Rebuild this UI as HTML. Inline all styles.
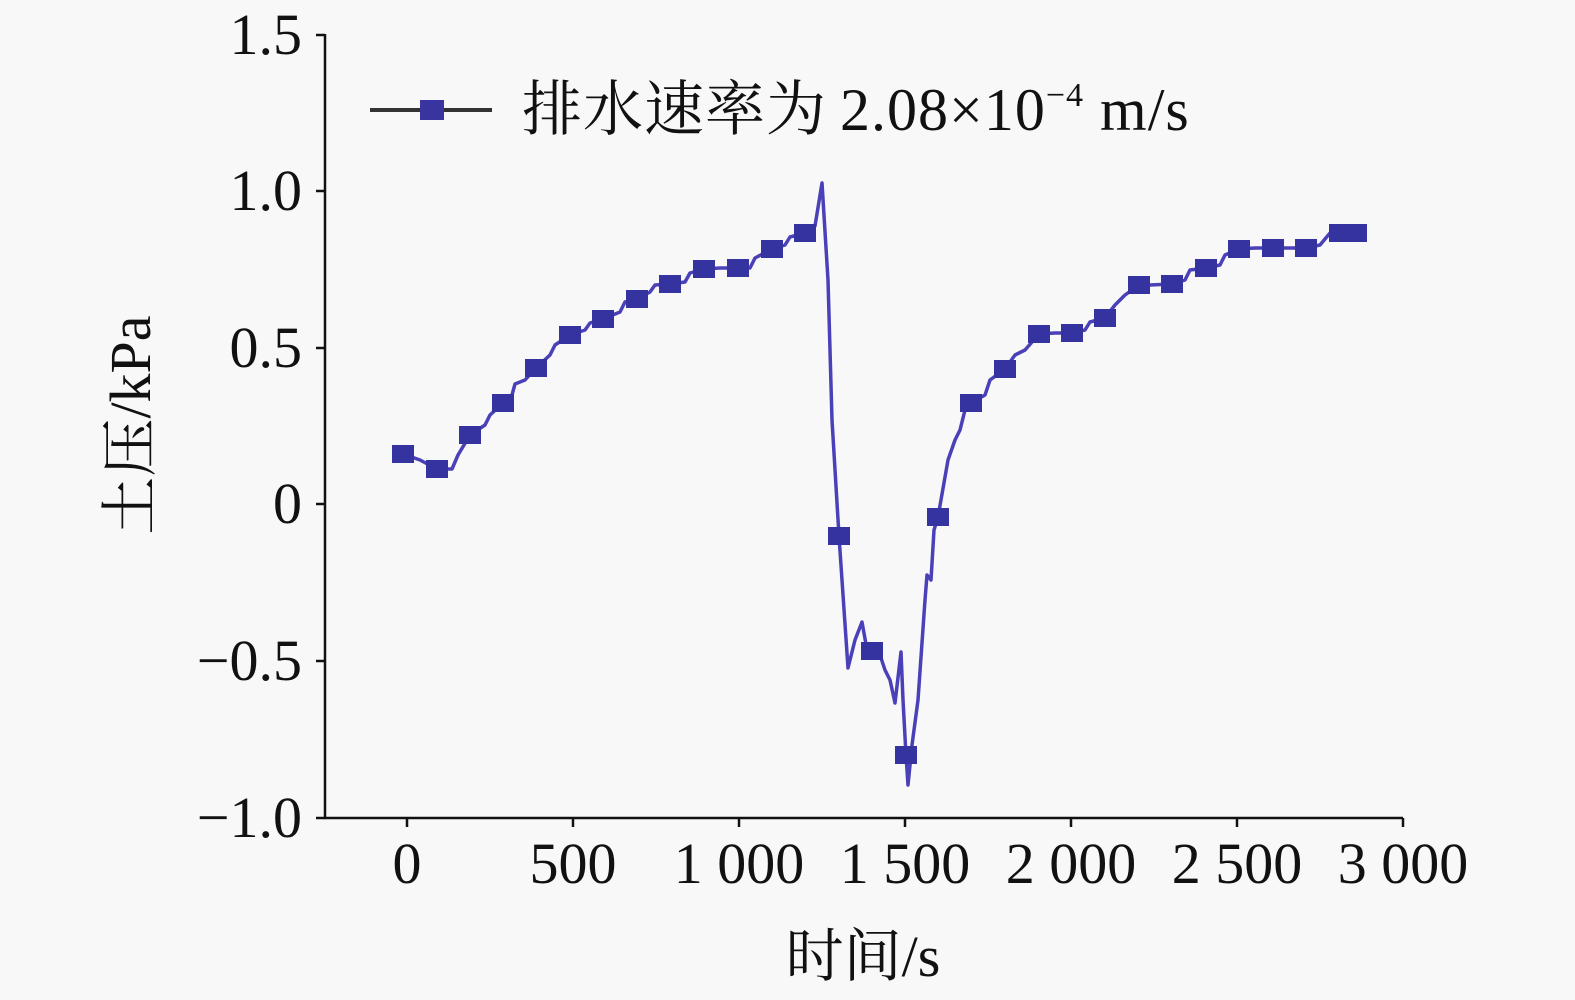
<!DOCTYPE html>
<html><head><meta charset="utf-8"><style>
html,body{margin:0;padding:0;background:#f8f8f8}
svg{display:block}
text{font-family:"Liberation Serif","Noto Serif CJK SC",serif;fill:#111}
</style></head><body>
<svg width="1575" height="1000" viewBox="0 0 1575 1000">
<rect width="1575" height="1000" fill="#f8f8f8"/>
<g stroke="#111" stroke-width="2.5" fill="none">
<path d="M325,34 V818 H1403"/>
<path d="M316,35 H325 M316,191 H325 M316,348 H325 M316,504 H325 M316,661 H325 M316,818 H325"/>
<path d="M407,818 V827 M573,818 V827 M739,818 V827 M905,818 V827 M1071,818 V827 M1237,818 V827 M1403,818 V827"/>
</g>
<g font-size="58" text-anchor="end">
<text x="302" y="54">1.5</text>
<text x="302" y="210">1.0</text>
<text x="302" y="367">0.5</text>
<text x="302" y="523">0</text>
<text x="302" y="680">−0.5</text>
<text x="302" y="837">−1.0</text>
</g>
<g font-size="58" text-anchor="middle">
<text x="407" y="883">0</text>
<text x="573" y="883">500</text>
<text x="739" y="883">1 000</text>
<text x="905" y="883">1 500</text>
<text x="1071" y="883">2 000</text>
<text x="1237" y="883">2 500</text>
<text x="1403" y="883">3 000</text>
<text x="863" y="976">时间/s</text>
</g>
<text font-size="58" text-anchor="middle" transform="translate(150,425) rotate(-90)">土压/kPa</text>
<line x1="370" y1="110" x2="492" y2="110" stroke="#333" stroke-width="4"/>
<rect x="420" y="100" width="24" height="20" fill="#3a34a0"/>
<text x="522" y="130" font-size="60" letter-spacing="1">排水速率为<tspan x="840">2.08×10</tspan><tspan font-size="34" dy="-24">−4</tspan><tspan dy="24"> m/s</tspan></text>
<polyline fill="none" stroke="#4a40b8" stroke-width="3.5" stroke-linejoin="round" points="
403,454 420,460 437,469 452,469 458,455 470,435 485,425 490,415 503,403 512,395 515,384 525,380 536,368 550,355 555,345 570,335 585,330 590,323 603,319 620,312 625,302 637,299 650,292 655,285 670,284 685,282 690,273 704,269 720,268 738,268 750,268 755,258 772,249 785,245 790,237 805,233 815,226 822,183 828,280 832,420 839,536 842,580 848,668 855,640 862,622 867,650 872,651 880,655 885,670 890,680 895,703 901,652 903,700 906,755 908,785 912,745 918,700 925,600 927,575 931,580 934,530 938,517 948,460 955,440 960,430 965,410 971,403 985,395 990,380 1005,369 1015,355 1025,350 1039,334 1055,333 1072,333 1085,330 1090,322 1105,318 1115,305 1125,295 1139,285 1150,285 1172,284 1185,280 1190,270 1206,268 1220,265 1225,255 1239,249 1255,248 1273,248 1290,248 1306,248 1320,245 1330,233 1340,233 1356,233"/>
<g fill="#3533a0">
<rect x="392" y="445" width="22" height="18"/>
<rect x="426" y="460" width="22" height="18"/>
<rect x="459" y="426" width="22" height="18"/>
<rect x="492" y="394" width="22" height="18"/>
<rect x="525" y="359" width="22" height="18"/>
<rect x="559" y="326" width="22" height="18"/>
<rect x="592" y="310" width="22" height="18"/>
<rect x="626" y="290" width="22" height="18"/>
<rect x="659" y="275" width="22" height="18"/>
<rect x="693" y="260" width="22" height="18"/>
<rect x="727" y="259" width="22" height="18"/>
<rect x="761" y="240" width="22" height="18"/>
<rect x="794" y="224" width="22" height="18"/>
<rect x="828" y="527" width="22" height="18"/>
<rect x="861" y="642" width="22" height="18"/>
<rect x="895" y="746" width="22" height="18"/>
<rect x="927" y="508" width="22" height="18"/>
<rect x="960" y="394" width="22" height="18"/>
<rect x="994" y="360" width="22" height="18"/>
<rect x="1028" y="325" width="22" height="18"/>
<rect x="1061" y="324" width="22" height="18"/>
<rect x="1094" y="309" width="22" height="18"/>
<rect x="1128" y="276" width="22" height="18"/>
<rect x="1161" y="275" width="22" height="18"/>
<rect x="1195" y="259" width="22" height="18"/>
<rect x="1228" y="240" width="22" height="18"/>
<rect x="1262" y="239" width="22" height="18"/>
<rect x="1295" y="239" width="22" height="18"/>
<rect x="1329" y="224" width="22" height="18"/>
<rect x="1345" y="224" width="22" height="18"/>
</g>
</svg>
</body></html>
